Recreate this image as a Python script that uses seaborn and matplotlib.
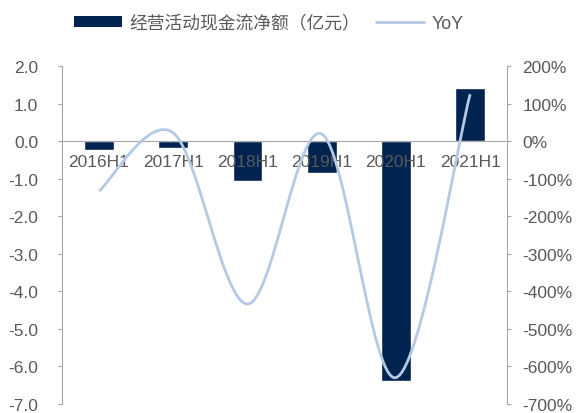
import matplotlib.pyplot as plt
from matplotlib.path import Path
from matplotlib.patches import PathPatch, Patch
from matplotlib.lines import Line2D
from matplotlib.ticker import FuncFormatter
import seaborn as sns
import numpy as np
import pandas as pd

periods = ['2016H1', '2017H1', '2018H1', '2019H1', '2020H1', '2021H1']
cash_flow = [-0.23, -0.19, -1.07, -0.86, -6.38, 1.41]   # 亿元
yoy = [-133, 22, -434, 19, -630, 125]                    # %

bar_color = '#00244F'
line_color = '#B4C9E4'
text_color = '#595959'
axis_color = '#A6A6A6'

sns.set_style('white')
plt.rcParams['font.family'] = ['Liberation Sans', 'Noto Sans CJK SC', 'DejaVu Sans']

df = pd.DataFrame({'period': periods, 'cash': cash_flow})

fig = plt.figure(figsize=(5.79, 4.14), dpi=100)
ax = fig.add_axes([0.107, 0.022, 0.769, 0.816])
sns.barplot(data=df, x='period', y='cash', color=bar_color, width=0.4,
            saturation=1, ax=ax)
ax.set_axisbelow(False)
ax.set_xlim(-0.5, 5.5)
ax.set_ylim(-7, 2)
ax.set_yticks(np.arange(-7, 2.01, 1))
ax.yaxis.set_major_formatter(FuncFormatter(lambda v, p: '%.1f' % v))
ax.set_xlabel('')
ax.set_ylabel('')

# x axis sits on zero line
for s in ['top', 'right']:
    ax.spines[s].set_visible(False)
ax.spines['bottom'].set_position(('data', 0))
ax.spines['bottom'].set_color(axis_color)
ax.spines['left'].set_color(axis_color)
ax.tick_params(axis='x', which='major', length=0, pad=9, labelsize=12.5,
               colors=text_color)
ax.set_xticks(np.arange(-0.5, 5.6, 1), minor=True)
ax.tick_params(axis='x', which='minor', length=4, color=axis_color,
               direction='out')
ax.tick_params(axis='y', length=3, color=axis_color, labelsize=12.5,
               colors=text_color, left=True, pad=14)

# secondary axis with smoothed YoY
ax2 = ax.twinx()
ax2.set_ylim(-700, 200)
ax2.set_yticks(np.arange(-700, 201, 100))
ax2.yaxis.set_major_formatter(FuncFormatter(lambda v, p: '%d%%' % v))
for s in ['top', 'left', 'bottom']:
    ax2.spines[s].set_visible(False)
ax2.spines['right'].set_color(axis_color)
ax2.tick_params(axis='y', length=3, color=axis_color, labelsize=12.5,
                colors=text_color, right=True, pad=8)

# excel-style smooth line (bezier through each point)
pts = np.column_stack([np.arange(len(yoy)), yoy]).astype(float)
verts = [pts[0]]
codes = [Path.MOVETO]
n = len(pts)
for i in range(n - 1):
    p0 = pts[i - 1] if i > 0 else pts[i]
    p1, p2 = pts[i], pts[i + 1]
    p3 = pts[i + 2] if i + 2 < n else pts[i + 1]
    c1 = p1 + (p2 - p0) / 6
    c2 = p2 - (p3 - p1) / 6
    verts += [c1, c2, p2]
    codes += [Path.CURVE4] * 3
ax2.add_patch(PathPatch(Path(verts, codes), facecolor='none',
                        edgecolor=line_color, lw=2))

handles = [Patch(facecolor=bar_color, edgecolor='none'),
           Line2D([], [], color=line_color, lw=2)]
fig.legend(handles, ['经营活动现金流净额（亿元）', 'YoY'], loc='upper left',
           bbox_to_anchor=(0.101, 1.0), ncol=2, frameon=False, fontsize=12.8,
           handlelength=2.7, handleheight=0.6, handletextpad=0.4,
           columnspacing=0.9, labelcolor=text_color)

fig.savefig('out.png', dpi=100)
